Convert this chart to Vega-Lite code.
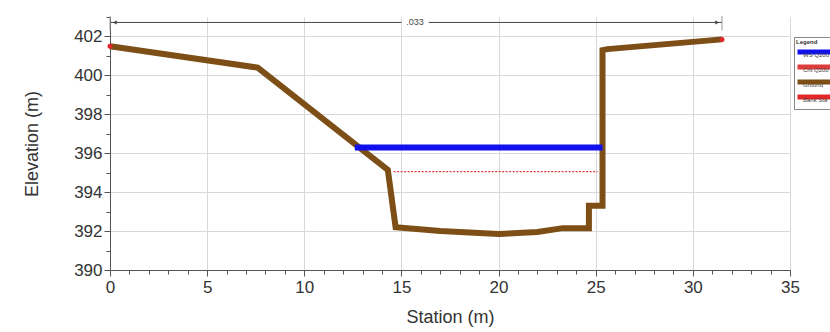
{
  "$schema": "https://vega.github.io/schema/vega-lite/v6.json",
  "width": 680,
  "height": 253,
  "autosize": {"type": "none"},
  "padding": {"left": 110, "top": 17, "right": 40, "bottom": 62},
  "background": "white",
  "config": {"view": {"stroke": null}, "font": "Liberation Sans"},
  "datasets": {
    "ground": [
      {"i": 0, "s": 0, "e": 401.5, "series": "Ground"},
      {"i": 1, "s": 7.6, "e": 400.4, "series": "Ground"},
      {"i": 2, "s": 14.3, "e": 395.15, "series": "Ground"},
      {"i": 3, "s": 14.7, "e": 392.2, "series": "Ground"},
      {"i": 4, "s": 17, "e": 392.0, "series": "Ground"},
      {"i": 5, "s": 20, "e": 391.85, "series": "Ground"},
      {"i": 6, "s": 22, "e": 391.95, "series": "Ground"},
      {"i": 7, "s": 23.3, "e": 392.15, "series": "Ground"},
      {"i": 8, "s": 24.65, "e": 392.15, "series": "Ground"},
      {"i": 9, "s": 24.65, "e": 393.3, "series": "Ground"},
      {"i": 10, "s": 25.35, "e": 393.3, "series": "Ground"},
      {"i": 11, "s": 25.35, "e": 401.3, "series": "Ground"},
      {"i": 12, "s": 25.6, "e": 401.35, "series": "Ground"},
      {"i": 13, "s": 31.5, "e": 401.85, "series": "Ground"}
    ],
    "water": [
      {"s": 12.6, "e": 396.3, "series": "WS Q200"},
      {"s": 25.35, "e": 396.3, "series": "WS Q200"}
    ],
    "crit": [
      {"s": 14.6, "e": 395.05, "series": "Crit Q200"},
      {"s": 25.1, "e": 395.05, "series": "Crit Q200"}
    ],
    "bank": [
      {"s": 0, "e": 401.5, "series": "Bank Sta"},
      {"s": 31.5, "e": 401.85, "series": "Bank Sta"}
    ],
    "dimh": [
      {"s": 0, "s2": 15.0, "e": 402.72},
      {"s": 16.4, "s2": 31.5, "e": 402.72}
    ],
    "dimv": [
      {"s": 0, "e": 402.3, "e2": 403.05},
      {"s": 31.5, "e": 402.3, "e2": 403.05}
    ],
    "arrows": [
      {"s": 0.25, "e": 402.72, "shape": "triangle-left"},
      {"s": 31.25, "e": 402.72, "shape": "triangle-right"}
    ],
    "label": [
      {"s": 15.7, "e": 402.72, "t": ".033"}
    ]
  },
  "layer": [
    {
      "data": {"name": "ground"},
      "mark": {"type": "line", "strokeWidth": 6, "clip": false},
      "encoding": {
        "x": {
          "field": "s", "type": "quantitative",
          "scale": {"domain": [0, 35], "nice": false, "zero": false},
          "axis": {
            "orient": "bottom", "format": "d",
            "values": [0,1,2,3,4,5,6,7,8,9,10,11,12,13,14,15,16,17,18,19,20,21,22,23,24,25,26,27,28,29,30,31,32,33,34,35],
            "tickCount": 100,
            "labelExpr": "datum.value % 5 === 0 ? datum.label : ''",
            "labelFlush": false, "labelOverlap": false,
            "title": "Station (m)", "titleFontSize": 18, "titleFontWeight": "normal", "titleColor": "#333",
            "titlePadding": 13, "labelFontSize": 17, "labelColor": "#333", "labelPadding": 3,
            "tickSize": {"condition": {"test": "datum.value % 5 === 0", "value": 6}, "value": 4},
            "tickColor": "#555", "domainColor": "#555",
            "grid": true, "gridColor": "#d8d8d8",
            "gridOpacity": {"condition": {"test": "datum.value % 5 === 0", "value": 1}, "value": 0}
          }
        },
        "y": {
          "field": "e", "type": "quantitative",
          "scale": {"domain": [390, 403], "nice": false, "zero": false},
          "axis": {
            "orient": "left", "format": "d",
            "values": [390,390.5,391,391.5,392,392.5,393,393.5,394,394.5,395,395.5,396,396.5,397,397.5,398,398.5,399,399.5,400,400.5,401,401.5,402,402.5,403],
            "tickCount": 100,
            "labelExpr": "datum.value % 2 === 0 ? datum.label : ''",
            "labelFlush": false, "labelOverlap": false,
            "title": "Elevation (m)", "titleFontSize": 18, "titleFontWeight": "normal", "titleColor": "#333",
            "titlePadding": 32, "labelFontSize": 17, "labelColor": "#333", "labelPadding": 2,
            "tickSize": {"condition": {"test": "datum.value % 2 === 0", "value": 6}, "value": 4},
            "tickColor": "#555", "domainColor": "#555",
            "grid": true, "gridColor": "#d8d8d8",
            "gridOpacity": {"condition": {"test": "datum.value % 2 === 0", "value": 1}, "value": 0}
          }
        },
        "order": {"field": "i", "type": "quantitative"},
        "color": {
          "field": "series", "type": "nominal",
          "scale": {
            "domain": ["WS Q200", "Crit Q200", "Ground", "Bank Sta"],
            "range": ["#1010ee", "#e03c3c", "#7d4e16", "#e02828"]
          },
          "legend": {
            "orient": "none", "legendX": 684, "legendY": 20,
            "title": "Legend", "titleFontSize": 6, "titleFontWeight": "bold", "titleColor": "#333",
            "titlePadding": 2,
            "labelFontSize": 6, "labelColor": "#444",
            "labelOffset": -18, "labelBaseline": "top", "labelAlign": "left",
            "symbolType": "M-7.4,0H7.4", "symbolStrokeWidth": 5, "symbolSize": 25, "symbolOffset": 15,
            "strokeColor": "#888", "fillColor": "white", "padding": 2, "rowPadding": -5
          }
        }
      }
    },
    {
      "data": {"name": "water"},
      "mark": {"type": "line", "strokeWidth": 6},
      "encoding": {
        "x": {"field": "s", "type": "quantitative"},
        "y": {"field": "e", "type": "quantitative"},
        "color": {"field": "series", "type": "nominal"}
      }
    },
    {
      "data": {"name": "crit"},
      "mark": {"type": "line", "strokeWidth": 1.2, "strokeDash": [2, 1.5]},
      "encoding": {
        "x": {"field": "s", "type": "quantitative"},
        "y": {"field": "e", "type": "quantitative"},
        "color": {"field": "series", "type": "nominal"}
      }
    },
    {
      "data": {"name": "bank"},
      "mark": {"type": "point", "filled": true, "size": 25, "opacity": 1, "clip": false},
      "encoding": {
        "x": {"field": "s", "type": "quantitative"},
        "y": {"field": "e", "type": "quantitative"},
        "color": {"field": "series", "type": "nominal"}
      }
    },
    {
      "data": {"name": "dimh"},
      "mark": {"type": "rule", "color": "#444", "strokeWidth": 1, "clip": false},
      "encoding": {
        "x": {"field": "s", "type": "quantitative"},
        "x2": {"field": "s2"},
        "y": {"field": "e", "type": "quantitative"}
      }
    },
    {
      "data": {"name": "dimv"},
      "mark": {"type": "rule", "color": "#999", "strokeWidth": 1, "clip": false},
      "encoding": {
        "x": {"field": "s", "type": "quantitative"},
        "y": {"field": "e", "type": "quantitative"},
        "y2": {"field": "e2"}
      }
    },
    {
      "data": {"name": "arrows"},
      "mark": {"type": "point", "filled": true, "size": 18, "color": "#444", "opacity": 1, "clip": false},
      "encoding": {
        "x": {"field": "s", "type": "quantitative"},
        "y": {"field": "e", "type": "quantitative"},
        "shape": {"field": "shape", "type": "nominal", "scale": null, "legend": null}
      }
    },
    {
      "data": {"name": "label"},
      "mark": {"type": "text", "fontSize": 9, "color": "#444", "baseline": "middle", "align": "center", "clip": false},
      "encoding": {
        "x": {"field": "s", "type": "quantitative"},
        "y": {"field": "e", "type": "quantitative"},
        "text": {"field": "t"}
      }
    }
  ]
}
